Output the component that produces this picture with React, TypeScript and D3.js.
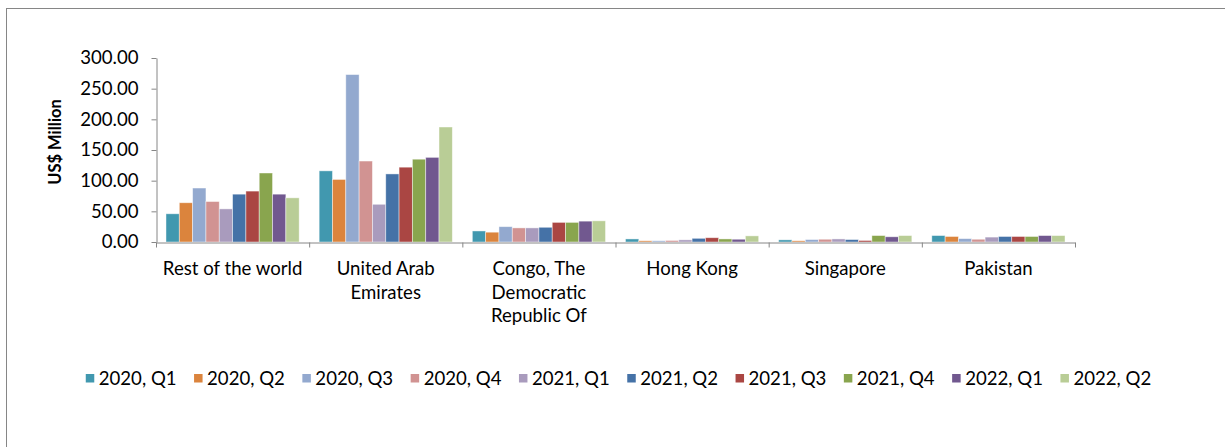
import { useEffect, useRef } from "react";
import * as d3 from "d3";

const categories = [
  "Rest of the world",
  "United Arab Emirates",
  "Congo, The Democratic Republic Of",
  "Hong Kong",
  "Singapore",
  "Pakistan",
];

const seriesNames = [
  "2020, Q1",
  "2020, Q2",
  "2020, Q3",
  "2020, Q4",
  "2021, Q1",
  "2021, Q2",
  "2021, Q3",
  "2021, Q4",
  "2022, Q1",
  "2022, Q2",
];

const seriesColors = [
  "#4198AF",
  "#DB843D",
  "#93A9CF",
  "#D19392",
  "#A99BBD",
  "#4572A7",
  "#AA4643",
  "#89A54E",
  "#71588F",
  "#B9CD96",
];

// one row per category, one value per quarter
const restOfWorld = [46, 64, 88, 66, 54, 78, 83, 112.5, 78, 72];
const uae = [116, 102, 273, 132, 61.5, 111, 122, 135, 138, 187.5];
const congo = [18, 16, 25, 23, 23, 24, 32, 32, 34, 34.5];
const hongKong = [5, 2, 2, 2.5, 3.5, 6, 7, 5, 4.5, 10];
const singapore = [3.5, 2, 4, 4.5, 5, 4, 2.5, 10.5, 8.5, 10.5];
const pakistan = [10.5, 9, 5.5, 4.5, 8, 9, 9, 9, 10.5, 10.5];

const values = [restOfWorld, uae, congo, hongKong, singapore, pakistan];

const yTicks = [0, 50, 100, 150, 200, 250, 300];

const FONT = "Lato, 'Open Sans', sans-serif";
const FONT_SIZE = "18.6px";
const AXIS_COLOR = "#868686";

export default function App() {
  const svgRef = useRef<SVGSVGElement | null>(null);

  useEffect(() => {
    if (!svgRef.current) return;
    const svg = d3.select(svgRef.current);
    svg.selectAll("*").remove();

    const left = 156;
    const right = 1075;
    const top = 58;
    const bottom = 242;

    // chart frame
    svg
      .append("rect")
      .attr("x", 6.5)
      .attr("y", 8.5)
      .attr("width", 1230)
      .attr("height", 460)
      .attr("fill", "#fff")
      .attr("stroke", AXIS_COLOR)
      .attr("stroke-width", 1);

    const y = d3.scaleLinear().domain([0, 300]).range([bottom, top]);
    const x = d3.scaleBand<string>().domain(categories).range([left, right]).padding(0);
    const bw = x.bandwidth();
    const barW = bw / 11.5;
    const inner = d3
      .scaleBand<number>()
      .domain(d3.range(seriesNames.length))
      .range([barW * 0.75, bw - barW * 0.75])
      .padding(0);

    // y axis
    svg
      .append("g")
      .attr("transform", `translate(${left + 0.5},0)`)
      .call(
        d3
          .axisLeft(y)
          .tickValues(yTicks)
          .tickFormat(d3.format(".2f"))
          .tickSizeInner(5)
          .tickSizeOuter(0)
          .tickPadding(13),
      )
      .call((g) => g.select(".domain").attr("stroke", AXIS_COLOR))
      .call((g) => g.selectAll(".tick line").attr("stroke", AXIS_COLOR))
      .call((g) =>
        g
          .selectAll("text")
          .attr("fill", "#000")
          .style("font-family", FONT)
          .style("font-size", FONT_SIZE),
      );

    // bars
    const groups = svg
      .append("g")
      .selectAll("g")
      .data(values)
      .enter()
      .append("g")
      .attr("transform", (_, i) => `translate(${x(categories[i]) ?? 0},0)`);

    groups
      .selectAll("rect")
      .data((row) => row)
      .enter()
      .append("rect")
      .attr("x", (_, j) => inner(j) ?? 0)
      .attr("y", (v) => y(v))
      .attr("width", inner.bandwidth())
      .attr("height", (v) => bottom - y(v))
      .attr("fill", (_, j) => seriesColors[j])
      .attr("stroke", "rgba(255,255,255,0.55)")
      .attr("stroke-width", 0.8);

    // x axis with ticks on category boundaries
    const edges = d3.scaleLinear().domain([0, categories.length]).range([left, right]);
    svg
      .append("g")
      .attr("transform", `translate(0,${bottom + 0.5})`)
      .call(
        d3
          .axisBottom(edges)
          .tickValues(d3.range(categories.length + 1))
          .tickFormat(() => "")
          .tickSizeInner(5)
          .tickSizeOuter(0),
      )
      .call((g) => g.select(".domain").attr("stroke", AXIS_COLOR))
      .call((g) => g.selectAll(".tick line").attr("stroke", AXIS_COLOR));

    // category labels, wrapped to the band width
    const labels = svg
      .append("g")
      .selectAll("text")
      .data(categories)
      .enter()
      .append("text")
      .attr("text-anchor", "middle")
      .attr("fill", "#000")
      .style("font-family", FONT)
      .style("font-size", FONT_SIZE);

    labels.each(function (name) {
      const text = d3.select(this);
      const cx = (x(name) ?? 0) + bw / 2;
      const words = name.split(" ");
      const lines: string[] = [];
      let line = "";
      const probe = text.append("tspan");
      for (const w of words) {
        const test = line ? `${line} ${w}` : w;
        probe.text(test);
        const len = (probe.node() as SVGTextContentElement).getComputedTextLength();
        if (len > bw - 4 && line) {
          lines.push(line);
          line = w;
        } else {
          line = test;
        }
      }
      if (line) lines.push(line);
      probe.remove();
      lines.forEach((l, i) => {
        text
          .append("tspan")
          .attr("x", cx)
          .attr("y", 275 + i * 23.5)
          .text(l);
      });
    });

    // y axis title
    svg
      .append("text")
      .attr("transform", `translate(61,142) rotate(-90)`)
      .attr("text-anchor", "middle")
      .attr("fill", "#000")
      .style("font-family", FONT)
      .style("font-size", "16.5px")
      .style("font-weight", "700")
      .text("US$ Million");

    // legend
    const legend = svg.append("g");
    const items = legend
      .selectAll("g")
      .data(seriesNames)
      .enter()
      .append("g");
    items
      .append("rect")
      .attr("x", 0)
      .attr("y", 374)
      .attr("width", 8.5)
      .attr("height", 8.5)
      .attr("fill", (_, i) => seriesColors[i]);
    items
      .append("text")
      .attr("x", 13)
      .attr("y", 384.5)
      .attr("fill", "#000")
      .style("font-family", FONT)
      .style("font-size", FONT_SIZE)
      .text((d) => d);

    const widths: number[] = [];
    items.select("text").each(function () {
      widths.push((this as SVGTextContentElement).getComputedTextLength());
    });
    const gap = 17.5;
    const itemW = widths.map((w) => 13 + w);
    const total = d3.sum(itemW) + gap * (itemW.length - 1);
    let cursor = 618.5 - total / 2;
    items.attr("transform", (_, i) => {
      const t = `translate(${cursor},0)`;
      cursor += itemW[i] + gap;
      return t;
    });
  }, []);

  return (
    <svg
      ref={svgRef}
      width={1225}
      height={447}
      style={{ position: "absolute", left: 0, top: 0, display: "block" }}
    />
  );
}
